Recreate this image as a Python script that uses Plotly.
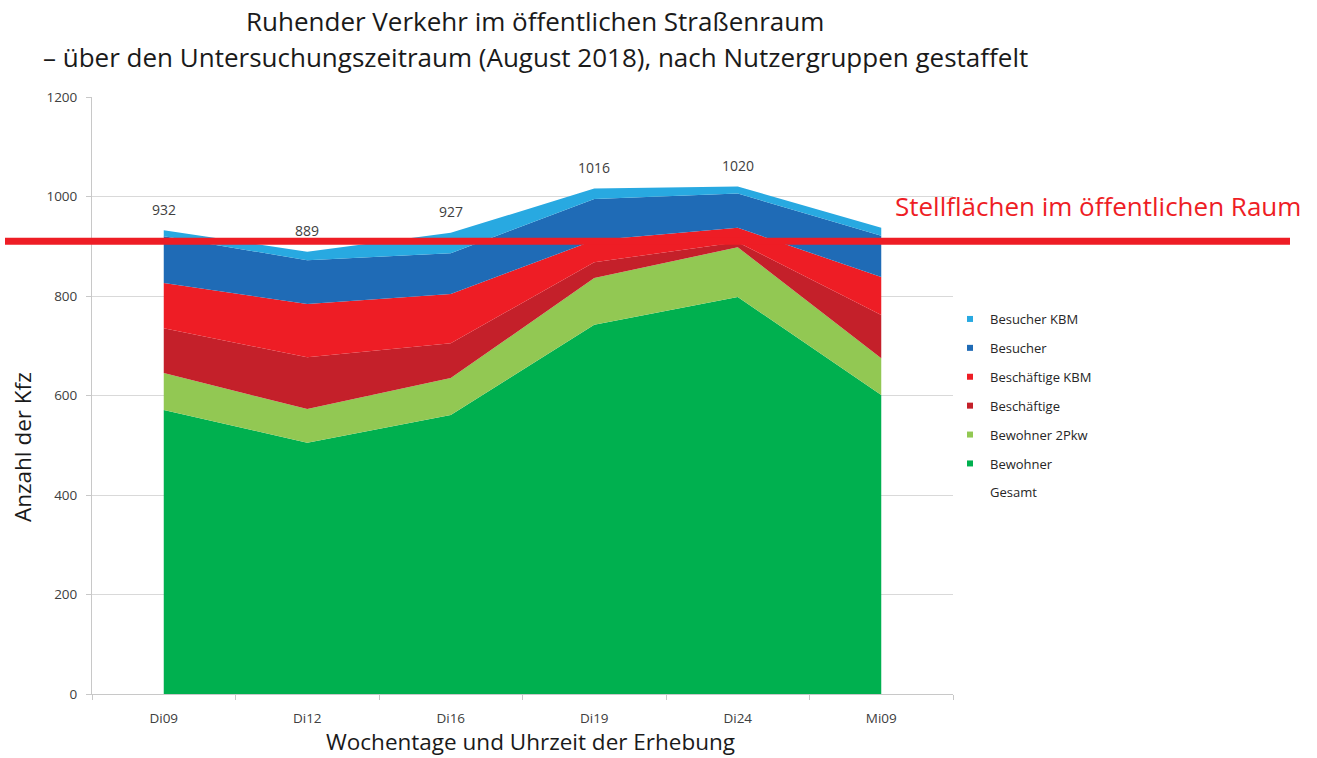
import plotly.graph_objects as go

categories = ["Di09", "Di12", "Di16", "Di19", "Di24", "Mi09"]
bewohner = [571, 505, 561, 742, 798, 601]
bewohner_2pkw = [74, 68, 74, 94, 100, 74]
beschaeftige = [90, 104, 70, 32, 10, 87]
beschaeftige_kbm = [91, 107, 99, 44, 29, 76]
besucher = [94, 88, 82, 83, 69, 83]
besucher_kbm = [12, 17, 41, 21, 14, 16]
gesamt = [932, 889, 927, 1016, 1020, 937]
gesamt_labels = ["932", "889", "927", "1016", "1020", ""]
stellflaechen = 910

series = [
    ("Bewohner", bewohner, "#00b04f"),
    ("Bewohner 2Pkw", bewohner_2pkw, "#92c853"),
    ("Beschäftige", beschaeftige, "#c4202a"),
    ("Beschäftige KBM", beschaeftige_kbm, "#ee1d25"),
    ("Besucher", besucher, "#1f6bb6"),
    ("Besucher KBM", besucher_kbm, "#28a9e1"),
]

W, H = 1317, 758
PL, PT, PW, PH = 92, 97, 861, 597


def px(x):
    return (x - PL) / PW


def py(y):
    return (PT + PH - y) / PH


fig = go.Figure()
n = len(series)
for i, (name, vals, col) in enumerate(series):
    fig.add_trace(go.Scatter(
        x=categories, y=vals, name=name, stackgroup="one",
        mode="lines", line=dict(width=0, color=col), fillcolor=col,
        showlegend=False, hoverinfo="skip"))
# legend entries
for i, (name, vals, col) in enumerate(series):
    fig.add_trace(go.Scatter(
        x=[None], y=[None], name=name, mode="markers",
        marker=dict(symbol="square", size=6, color=col),
        legendrank=n - i, legendgroup=name, showlegend=True))
fig.add_trace(go.Scatter(
    x=categories, y=gesamt, name="Gesamt", mode="lines",
    line=dict(width=0, color="rgba(0,0,0,0)"), legendrank=100,
    legendgroup="Gesamt"))

for c, v, t in zip(categories, gesamt, gesamt_labels):
    if t:
        fig.add_annotation(x=c, y=v, text=t, showarrow=False, yshift=21,
                           font=dict(family="Open Sans", size=14, color="#404040"))

# Stellflächen line
fig.add_shape(type="line", xref="paper", yref="y",
              x0=px(5), x1=px(1290), y0=stellflaechen, y1=stellflaechen,
              line=dict(color="#ee1d25", width=7), layer="above")
fig.add_annotation(xref="paper", yref="paper", x=px(1303), y=py(206),
                   xanchor="right", yanchor="middle", showarrow=False,
                   text="Stellflächen im öffentlichen Raum",
                   font=dict(family="Open Sans", size=26, color="#ee1d25"))

# Titles
fig.add_annotation(xref="paper", yref="paper", x=px(535), y=py(21),
                   xanchor="center", yanchor="middle", showarrow=False,
                   text="Ruhender Verkehr im öffentlichen Straßenraum",
                   font=dict(family="Open Sans", size=26, color="#1a1a1a"))
fig.add_annotation(xref="paper", yref="paper", x=px(535), y=py(57),
                   xanchor="center", yanchor="middle", showarrow=False,
                   text="– über den Untersuchungszeitraum (August 2018), nach Nutzergruppen gestaffelt",
                   font=dict(family="Open Sans", size=26, color="#1a1a1a"))
fig.add_annotation(xref="paper", yref="paper", x=px(23), y=py(447),
                   xanchor="center", yanchor="middle", showarrow=False, textangle=-90,
                   text="Anzahl der Kfz",
                   font=dict(family="Open Sans", size=22.5, color="#1a1a1a"))
fig.add_annotation(xref="paper", yref="paper", x=px(530), y=py(742),
                   xanchor="center", yanchor="middle", showarrow=False,
                   text="Wochentage und Uhrzeit der Erhebung",
                   font=dict(family="Open Sans", size=22.5, color="#1a1a1a"))

fig.update_layout(
    width=W, height=H,
    margin=dict(l=PL, r=W - PL - PW, t=PT, b=H - PT - PH),
    paper_bgcolor="white", plot_bgcolor="white",
    showlegend=True,
    legend=dict(x=px(950), y=py(304), xanchor="left", yanchor="top",
                font=dict(family="Open Sans", size=13, color="#262626"),
                tracegroupgap=9, itemwidth=30, bgcolor="rgba(0,0,0,0)"),
    xaxis=dict(type="category", range=[-0.5, 5.5], showgrid=False,
               showline=True, linecolor="#c8c8c8", linewidth=1,
               ticks="outside", tickson="boundaries", ticklen=5, tickcolor="#c8c8c8",
               ticklabelstandoff=12,
               tickfont=dict(family="Open Sans", size=13.5, color="#404040")),
    yaxis=dict(range=[0, 1200], dtick=200, showgrid=True, gridcolor="#d9d9d9",
               showline=True, linecolor="#c8c8c8", linewidth=1,
               ticks="outside", ticklen=5, tickcolor="#c8c8c8",
               ticklabelstandoff=6, zeroline=False,
               tickfont=dict(family="Open Sans", size=13.5, color="#404040")),
)

fig.write_html("out.html", config={"displayModeBar": False},
               post_script="document.body.style.margin='0';")
